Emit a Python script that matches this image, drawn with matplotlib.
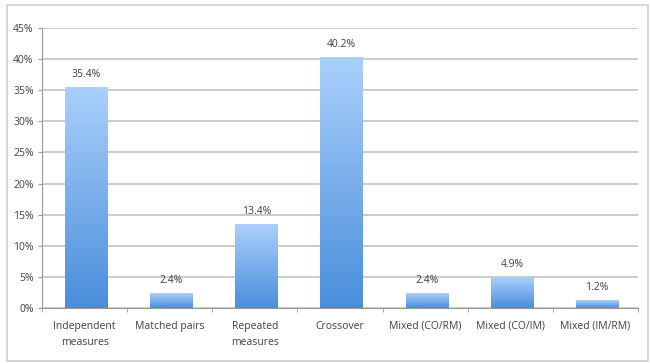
import matplotlib
matplotlib.use("Agg")
import matplotlib.pyplot as plt
import numpy as np
from matplotlib.colors import LinearSegmentedColormap
from matplotlib.patches import Rectangle

categories = ["Independent\nmeasures", "Matched pairs", "Repeated\nmeasures",
              "Crossover", "Mixed (CO/RM)", "Mixed (CO/IM)", "Mixed (IM/RM)"]
values = [35.4, 2.4, 13.4, 40.2, 2.4, 4.9, 1.2]
labels = ["35.4%", "2.4%", "13.4%", "40.2%", "2.4%", "4.9%", "1.2%"]
yticks = [0, 5, 10, 15, 20, 25, 30, 35, 40, 45]
ytick_labels = ["0%", "5%", "10%", "15%", "20%", "25%", "30%", "35%", "40%", "45%"]

plt.rcParams['font.family'] = ['Open Sans', 'DejaVu Sans']

fig = plt.figure(figsize=(6.5, 3.63), dpi=100)
fig.patches.append(Rectangle((0.011, 0.005), 0.986, 0.982, transform=fig.transFigure,
                             fill=False, edgecolor="#cfcfcf", linewidth=1.2))
ax = fig.add_axes([0.0646, 0.1515, 0.917, 0.7715])

x = np.arange(len(values))
bars = ax.bar(x, values, width=0.5, color="none", zorder=3)
cmap = LinearSegmentedColormap.from_list("g", ["#4a8edb", "#aad0fb"])
grad = np.linspace(0, 1, 256).reshape(-1, 1)
for b in bars:
    x0, y0 = b.get_x(), b.get_y()
    w, h = b.get_width(), b.get_height()
    ax.imshow(grad, extent=[x0 + 0.02, x0 + w + 0.02, y0, y0 + h], origin="lower", cmap=cmap,
              aspect="auto", zorder=3)

for xi, v, lab in zip(x, values, labels):
    ax.text(xi + 0.02, v + 1.2, lab, ha="center", va="bottom", fontsize=7.5, color="#404040")

ax.set_xlim(-0.5, len(values) - 0.5)
ax.set_ylim(0, 45)
ax.set_yticks(yticks)
ax.set_yticklabels(ytick_labels, fontsize=7.5, color="#404040")
ax.set_xticks(x)
ax.set_xticklabels(categories, fontsize=7.5, color="#404040", linespacing=1.7)
ax.set_xticks(np.arange(len(values) + 1) - 0.5, minor=True)
ax.tick_params(axis="x", which="major", length=0, pad=9)
ax.tick_params(axis="x", which="minor", length=3, color="#9a9a9a", direction="out")
ax.tick_params(axis="y", length=3, color="#9a9a9a", direction="out", pad=3)
ax.yaxis.grid(True, color="#bdbdbd", linewidth=1.1, zorder=0)
ax.set_axisbelow(True)
for s in ["top", "right"]:
    ax.spines[s].set_visible(False)
ax.spines["left"].set_color("#9a9a9a")
ax.spines["bottom"].set_color("#9a9a9a")

fig.savefig("out.png", dpi=100)
